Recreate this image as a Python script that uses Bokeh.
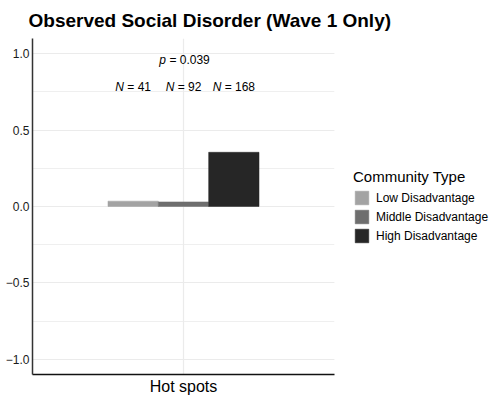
from bokeh.plotting import figure
from bokeh.models import ColumnDataSource, FactorRange, Range1d, Legend, LegendItem, SingleIntervalTicker
from bokeh.transform import dodge
from bokeh.core.properties import value
from bokeh.embed import file_html
from bokeh.resources import INLINE

# ---- data ----
category = ["Hot spots"]
groups = ["Low Disadvantage", "Middle Disadvantage", "High Disadvantage"]
means = [0.035, 0.03, 0.355]
ns = ["41", "92", "168"]
p_value = "0.039"
colors = ["#a3a3a3", "#6e6e6e", "#262626"]
offsets = [-0.1667, 0.0, 0.1667]

FONT = "Liberation Sans"
NB = "\u00a0"
CW = {".": 3.34, "=": 7.0, NB: 3.34}


def tw(s):
    return sum(CW.get(ch, 6.67) for ch in s)


p = figure(x_range=FactorRange(factors=category, range_padding=0), y_range=Range1d(-1.1, 1.1),
           width=498, height=400, frame_width=302, frame_height=336,
           output_backend="svg", toolbar_location=None,
           title="Observed Social Disorder (Wave 1 Only)",
           min_border_left=32, min_border_right=0, min_border_top=0, min_border_bottom=0)

p.title.text_font = FONT
p.title.text_font_size = "19px"
p.title.text_font_style = "bold"
p.title.text_color = "#000000"
p.title.offset = -4
p.title.standoff = 15

p.outline_line_color = None
p.background_fill_color = "white"

renderers = []
for g, m, c, o, n in zip(groups, means, colors, offsets, ns):
    src = ColumnDataSource(dict(x=category, top=[m]))
    r = p.vbar(x=dodge("x", o, range=p.x_range), top="top", bottom=0, width=0.1667,
               source=src, fill_color=c, line_color=c, line_width=0.5)
    renderers.append(r)
    # N labels: italic "N" + rest
    rest = NB + "=" + NB + n
    w_n = 8.7
    total = w_n + tw(rest)
    lsrc = ColumnDataSource(dict(x=category, y=[0.78]))
    p.text(x=dodge("x", o, range=p.x_range), y="y", source=lsrc, text=value("N"),
           text_font=value(FONT), text_font_size="12px", text_font_style="italic",
           text_align="left", text_baseline="middle", x_offset=-total / 2, text_color="#000000")
    p.text(x=dodge("x", o, range=p.x_range), y="y", source=lsrc, text=value(rest),
           text_font=value(FONT), text_font_size="12px",
           text_align="left", text_baseline="middle", x_offset=-total / 2 + w_n, text_color="#000000")

psrc = ColumnDataSource(dict(x=category, y=[0.96]))
rest = NB + "=" + NB + p_value
w_p = 6.8
total = w_p + tw(rest)
p.text(x="x", y="y", source=psrc, text=value("p"), text_font=value(FONT), text_font_size="12px",
       text_font_style="italic", text_align="left", text_baseline="middle", x_offset=-total / 2 + 1,
       text_color="#000000")
p.text(x="x", y="y", source=psrc, text=value(rest), text_font=value(FONT), text_font_size="12px",
       text_align="left", text_baseline="middle", x_offset=-total / 2 + 1 + w_p, text_color="#000000")

# axes
p.yaxis.ticker = SingleIntervalTicker(interval=0.5, num_minor_ticks=2)
p.yaxis.major_label_text_font = FONT
p.yaxis.major_label_text_font_size = "12px"
p.yaxis.major_label_text_color = "#1a1a1a"
p.yaxis.major_tick_line_color = None
p.yaxis.minor_tick_line_color = None
p.yaxis.major_tick_out = 0
p.yaxis.minor_tick_out = 0
p.yaxis.axis_line_color = "#333333"
p.yaxis.axis_line_width = 1.5
p.yaxis.major_label_standoff = 3
p.yaxis.major_label_overrides = {-1: "\u22121.0", -0.5: "\u22120.5", 0: "0.0", 0.5: "0.5", 1: "1.0"}

p.xaxis.major_label_text_font = FONT
p.xaxis.major_label_text_font_size = "16px"
p.xaxis.major_label_text_color = "#000000"
p.xaxis.major_tick_line_color = None
p.xaxis.minor_tick_line_color = None
p.xaxis.major_tick_out = 0
p.xaxis.minor_tick_out = 0
p.xaxis.axis_line_color = "#111111"
p.xaxis.axis_line_width = 1.5
p.xaxis.major_label_standoff = 3

p.ygrid.grid_line_color = "#ebebeb"
p.ygrid.grid_line_width = 1.2
p.ygrid.minor_grid_line_color = "#ebebeb"
p.ygrid.minor_grid_line_width = 0.8
p.xgrid.grid_line_color = "#ebebeb"
p.xgrid.grid_line_width = 1.2

legend = Legend(items=[LegendItem(label=g, renderers=[r]) for g, r in zip(groups, renderers)],
                title="Community Type", location="center_left")
legend.title_text_font = FONT
legend.title_text_font_size = "15px"
legend.title_text_font_style = "normal"
legend.title_text_color = "#000000"
legend.title_standoff = 4
legend.label_text_font = FONT
legend.label_text_font_size = "12px"
legend.label_text_color = "#000000"
legend.glyph_width = 17
legend.glyph_height = 17
legend.spacing = 2
legend.label_standoff = 6
legend.border_line_color = None
legend.background_fill_alpha = 0
legend.padding = 0
legend.margin = 19
p.add_layout(legend, "right")

open("out.html", "w").write(file_html(p, INLINE))
